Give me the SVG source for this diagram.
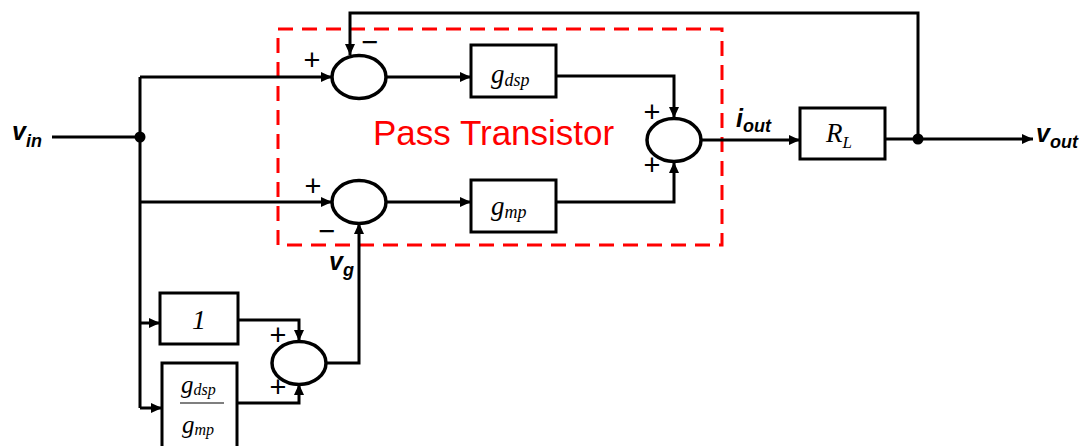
<svg xmlns="http://www.w3.org/2000/svg" width="1091" height="446" viewBox="0 0 1091 446">
<style>
.w{stroke:#000;stroke-width:3;fill:none}
.box{stroke:#000;stroke-width:3;fill:#fff}
.sum{stroke:#000;stroke-width:3.5;fill:#fff}
.m{font-family:"Liberation Serif",serif;font-style:italic;fill:#000}
.lbl{font-family:"Liberation Sans",Arial,sans-serif;font-weight:bold;font-style:italic;fill:#000}
.sg{font-family:"Liberation Sans",Arial,sans-serif;font-size:29px;fill:#000}
</style>
<defs>
<marker id="ah" markerUnits="userSpaceOnUse" markerWidth="11" markerHeight="10" refX="11" refY="5" orient="auto">
<path d="M0,0 L11,5 L0,10 z" fill="#000"/>
</marker>
</defs>
<rect x="278" y="29" width="444" height="216" fill="none" stroke="#f00" stroke-width="3" stroke-dasharray="15 9"/>
<text x="373" y="145" font-family="Liberation Sans,Arial,sans-serif" font-size="35" fill="#f00">Pass Transistor</text>
<g id="connectors" class="w">
<path d="M52,137 H140"/>
<path d="M140,77 V408"/>
<path d="M140,77 H332" marker-end="url(#ah)"/>
<path d="M140,202 H332" marker-end="url(#ah)"/>
<path d="M140,323 H160" marker-end="url(#ah)"/>
<path d="M140,408 H162" marker-end="url(#ah)"/>
<path d="M386,77 H471" marker-end="url(#ah)"/>
<path d="M386,202 H471" marker-end="url(#ah)"/>
<path d="M556,76 H674 V118" marker-end="url(#ah)"/>
<path d="M556,202 H674 V162" marker-end="url(#ah)"/>
<path d="M701,140 H800" marker-end="url(#ah)"/>
<path d="M885,139 H1033" marker-end="url(#ah)"/>
<path d="M918,139 V13 H350 V55" marker-end="url(#ah)"/>
<path d="M238,320 H299 V341" marker-end="url(#ah)"/>
<path d="M237,403 H299 V384" marker-end="url(#ah)"/>
<path d="M326,363 H359 V223" marker-end="url(#ah)"/>
<circle cx="140" cy="137" r="5.5" fill="#000" stroke="none"/>
<circle cx="918" cy="139" r="5.5" fill="#000" stroke="none"/>
</g>
<g id="sum1"><ellipse class="sum" cx="359" cy="77" rx="27" ry="21.5"/>
<text class="sg" x="303.5" y="69.5">+</text><text class="sg" x="361.5" y="51.5">−</text></g>
<g id="sum2"><ellipse class="sum" cx="359" cy="202" rx="27" ry="21.5"/>
<text class="sg" x="304.5" y="195.5">+</text><text class="sg" x="318.5" y="240.5">−</text></g>
<g id="sum3"><ellipse class="sum" cx="674" cy="140" rx="27" ry="21.5"/>
<text class="sg" x="643.5" y="122">+</text><text class="sg" x="643.5" y="175">+</text></g>
<g id="sum4"><ellipse class="sum" cx="299" cy="363" rx="27" ry="21.5"/>
<text class="sg" x="269.5" y="344.5">+</text><text class="sg" x="269.5" y="397">+</text></g>
<g id="gdsp"><rect class="box" x="471" y="45" width="85" height="52"/>
<text class="m" x="491" y="83" font-size="27">g<tspan font-size="18" dy="3">dsp</tspan></text></g>
<g id="gmp"><rect class="box" x="471" y="180" width="85" height="52"/>
<text class="m" x="491" y="215" font-size="27">g<tspan font-size="18" dy="3">mp</tspan></text></g>
<g id="rl"><rect class="box" x="800" y="108" width="85" height="51"/>
<text class="m" x="826" y="142" font-size="27">R<tspan font-size="17" dy="6">L</tspan></text></g>
<g id="one"><rect class="box" x="160" y="293" width="78" height="51"/>
<text class="m" x="192" y="329" font-size="28">1</text></g>
<g id="frac"><rect class="box" x="162" y="363" width="75" height="90"/>
<text class="m" x="181" y="393" font-size="25">g<tspan font-size="16" dy="2">dsp</tspan></text>
<line x1="180" y1="403" x2="224" y2="403" stroke="#555" stroke-width="1.5"/>
<text class="m" x="182" y="433" font-size="25">g<tspan font-size="16" dy="2">mp</tspan></text></g>
<g id="labels">
<text class="lbl" x="12" y="140" font-size="25">v<tspan font-size="18" dy="7">in</tspan></text>
<text class="lbl" x="1036" y="142" font-size="25">v<tspan font-size="18" dy="6">out</tspan></text>
<text class="lbl" x="736" y="127" font-size="25">i<tspan font-size="18" dy="5">out</tspan></text>
<text class="lbl" x="329" y="270" font-size="25">v<tspan font-size="18" dy="6">g</tspan></text>
</g>
</svg>
